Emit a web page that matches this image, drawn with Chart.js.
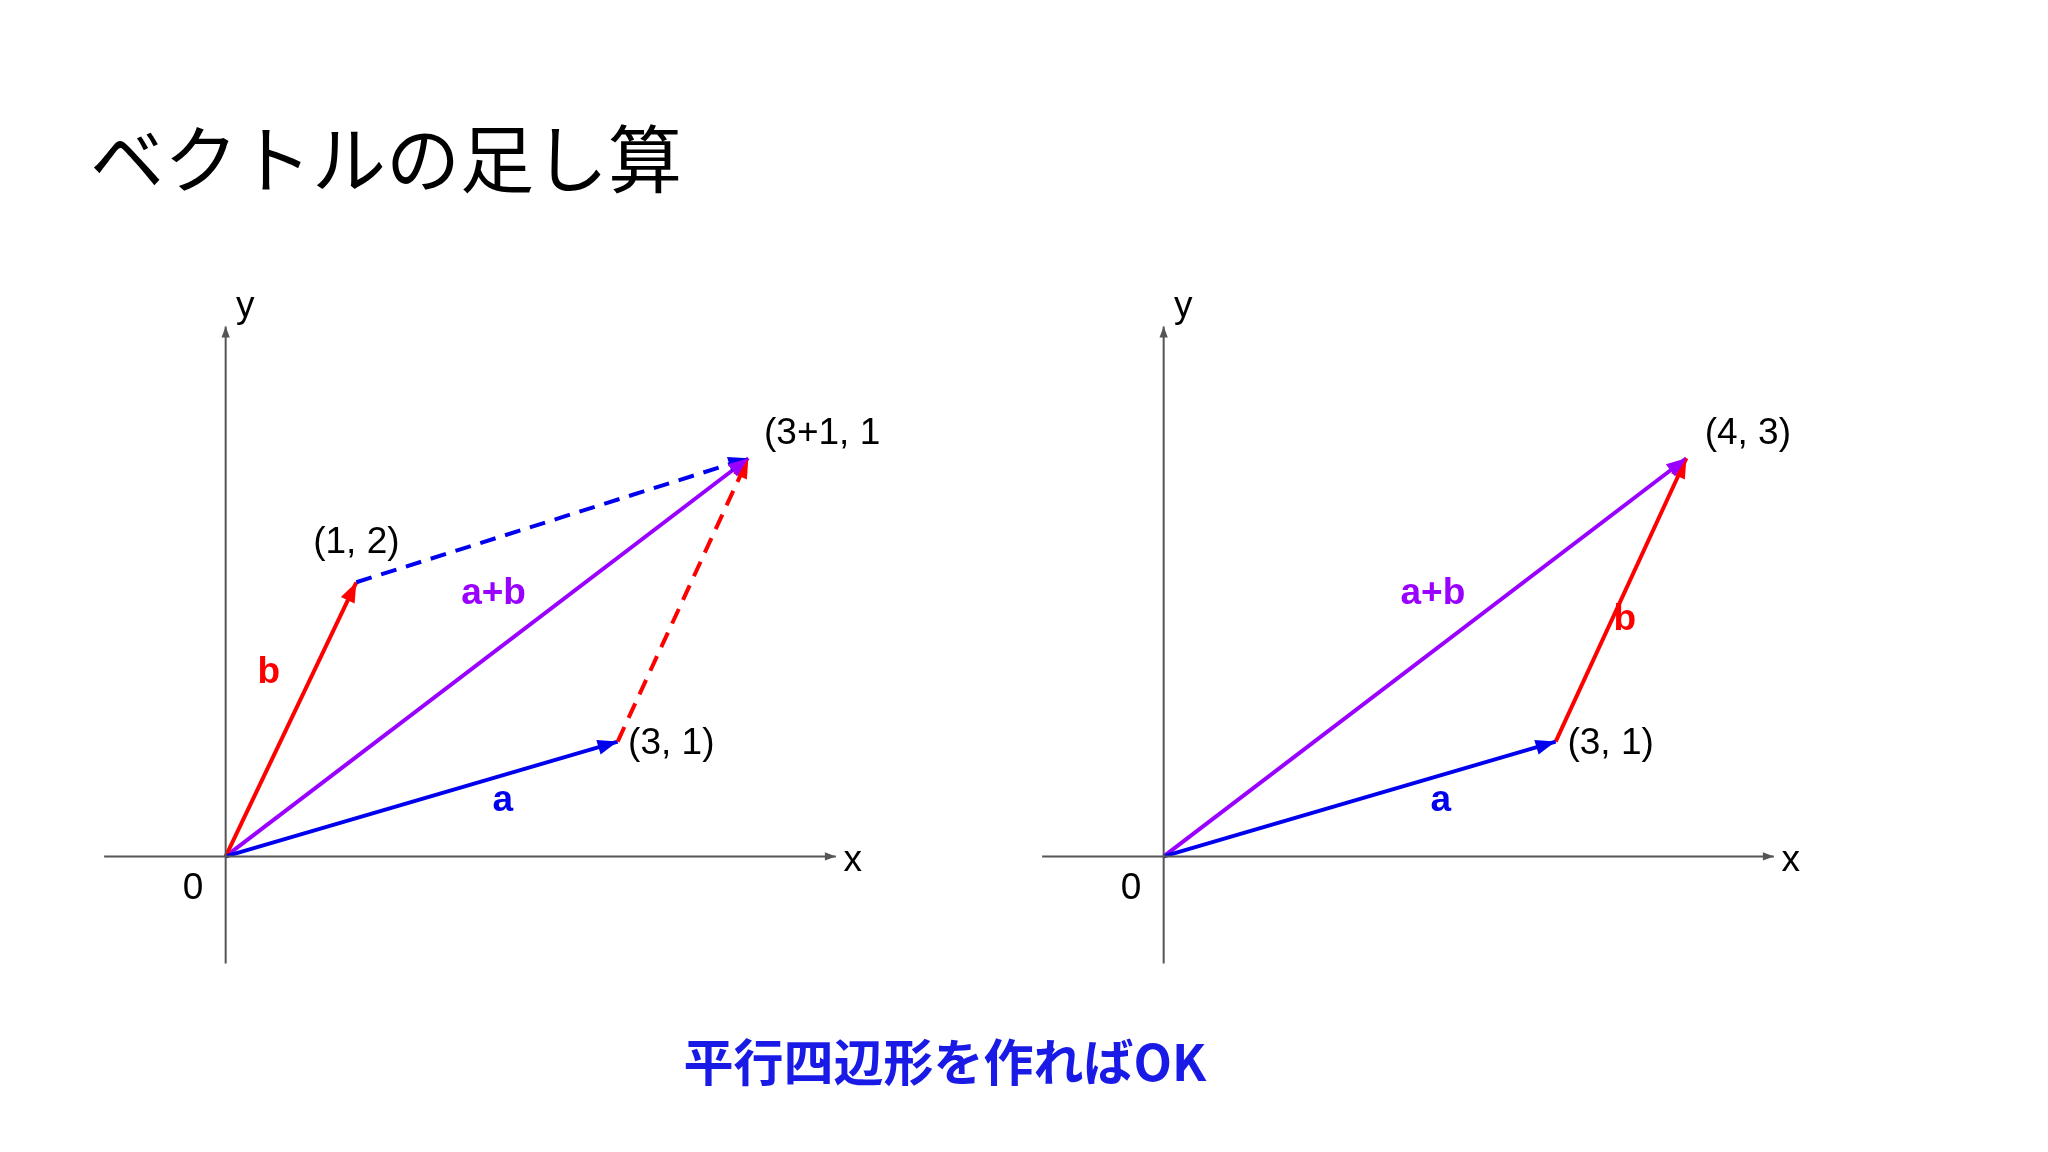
<!DOCTYPE html>
<html><head><meta charset="utf-8">
<script src="https://cdn.jsdelivr.net/npm/chart.js@4"></script>
<style>
body{margin:0;width:2048px;height:1152px;background:#fff;position:relative;overflow:hidden;font-family:"Liberation Sans",Arial,sans-serif}
#title{position:absolute;left:90px;top:118px;font:400 74px "Noto Sans CJK JP";color:#000;line-height:1}
#note{position:absolute;left:0;width:1890px;text-align:center;top:1034px;font:700 50px "Noto Sans CJK JP";color:#1a1ae6;line-height:1}
.c{position:absolute;top:282px;width:784px;height:705px}
</style></head><body>
<div id="title">ベクトルの足し算</div>
<div id="note">平行四辺形を作ればOK</div>
<div class="c" style="left:95px"><canvas id="c1"></canvas></div>
<div class="c" style="left:1033px"><canvas id="c2"></canvas></div>
<script>
const xAxisPts=[{x:-0.93,y:0},{x:4.67,y:0}];
const yAxisPts=[{x:0,y:-0.82},{x:0,y:4.06}];
const vecA=[{x:0,y:0},{x:3,y:0.88}];
const vecB=[{x:0,y:0},{x:1,y:2.1}];
const vecSum=[{x:0,y:0},{x:4,y:3.05}];
const dashFromB=[{x:1,y:2.1},{x:4,y:3.05}];
const dashFromA=[{x:3,y:0.88},{x:4,y:3.05}];
const vecBShift=[{x:3,y:0.88},{x:4,y:3.05}];
const leftLabels=[
 {t:'(1, 2)',x:0.67,y:2.4,c:'#000',b:false,a:'left'},
 {t:'(3+1, 1+2)',x:4.12,y:3.24,c:'#000',b:false,a:'left'},
 {t:'(3, 1)',x:3.08,y:0.86,c:'#000',b:false,a:'left'},
 {t:'a',x:2.12,y:0.43,c:'#0000ee',b:true,a:'center'},
 {t:'b',x:0.33,y:1.41,c:'#ff0000',b:true,a:'center'},
 {t:'a+b',x:2.05,y:2.01,c:'#9900ff',b:true,a:'center'},
 {t:'0',x:-0.25,y:-0.25,c:'#000',b:false,a:'center'},
 {t:'x',x:4.8,y:-0.03,c:'#000',b:false,a:'center'},
 {t:'y',x:0.15,y:4.21,c:'#000',b:false,a:'center'}];
const rightLabels=[
 {t:'(4, 3)',x:4.14,y:3.24,c:'#000',b:false,a:'left'},
 {t:'(3, 1)',x:3.09,y:0.86,c:'#000',b:false,a:'left'},
 {t:'a',x:2.12,y:0.43,c:'#0000ee',b:true,a:'center'},
 {t:'b',x:3.53,y:1.81,c:'#ff0000',b:true,a:'center'},
 {t:'a+b',x:2.06,y:2.01,c:'#9900ff',b:true,a:'center'},
 {t:'0',x:-0.25,y:-0.25,c:'#000',b:false,a:'center'},
 {t:'x',x:4.8,y:-0.03,c:'#000',b:false,a:'center'},
 {t:'y',x:0.15,y:4.21,c:'#000',b:false,a:'center'}];
const BLUE='#0000ee',RED='#ff0000',PUR='#9900ff',GRAY='#555';
function ds(data,color,opt){return Object.assign({data,borderColor:color,backgroundColor:color,showLine:true,pointRadius:0,borderWidth:4,arrow:20},opt||{});}
const arrowPlugin={id:'arrows',afterDatasetsDraw(ch){
 const ctx=ch.ctx,xs=ch.scales.x,ys=ch.scales.y;
 ch.data.datasets.forEach(d=>{
  const n=d.data.length,p=d.data[n-1],q=d.data[n-2];
  const x1=xs.getPixelForValue(p.x),y1=ys.getPixelForValue(p.y),x0=xs.getPixelForValue(q.x),y0=ys.getPixelForValue(q.y);
  const ang=Math.atan2(y1-y0,x1-x0),L=d.arrow,W=L*0.38;
  ctx.save();ctx.translate(x1,y1);ctx.rotate(ang);ctx.fillStyle=d.borderColor;
  ctx.beginPath();ctx.moveTo(0,0);ctx.lineTo(-L,-W);ctx.lineTo(-L,W);ctx.closePath();ctx.fill();ctx.restore();
 });
 (ch.options.plugins.arrows.labels||[]).forEach(l=>{
  ctx.save();ctx.font=(l.b?'700 ':'400 ')+'37px "Liberation Sans"';ctx.fillStyle=l.c;ctx.textAlign=l.a;ctx.textBaseline='middle';
  ctx.fillText(l.t,xs.getPixelForValue(l.x),ys.getPixelForValue(l.y));ctx.restore();
 });
}};
function make(id,sets,labels){
 new Chart(document.getElementById(id),{type:'scatter',data:{datasets:[
   ds(xAxisPts,GRAY,{borderWidth:2,arrow:11}),ds(yAxisPts,GRAY,{borderWidth:2,arrow:11}),...sets]},
  options:{responsive:true,maintainAspectRatio:false,animation:false,layout:{padding:0},
   scales:{x:{type:'linear',min:-1,max:5,display:false},y:{type:'linear',min:-1,max:4.4,display:false}},
   plugins:{legend:{display:false},tooltip:{enabled:false},arrows:{labels}}},plugins:[arrowPlugin]});
}
make('c1',[ds(dashFromB,BLUE,{borderDash:[16,10]}),ds(dashFromA,RED,{borderDash:[16,10]}),ds(vecA,BLUE),ds(vecB,RED),ds(vecSum,PUR)],leftLabels);
make('c2',[ds(vecA,BLUE),ds(vecBShift,RED),ds(vecSum,PUR)],rightLabels);
</script></body></html>
